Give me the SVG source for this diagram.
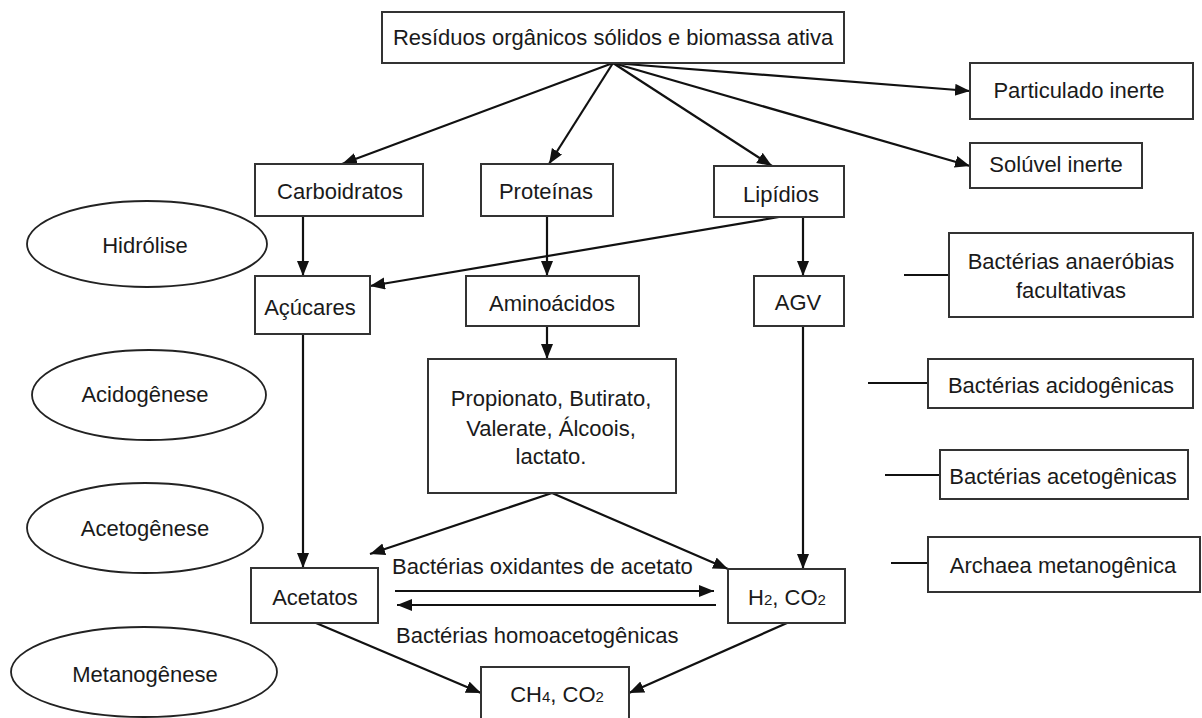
<svg xmlns="http://www.w3.org/2000/svg" width="1202" height="718" viewBox="0 0 1202 718">
<style>
  .box { fill: #ffffff; stroke: #333333; stroke-width: 2; }
  .ell { fill: #ffffff; stroke: #222222; stroke-width: 1.8; }
  .t { font-family: "Liberation Sans", Arial, sans-serif; font-size: 22px; fill: #1a1a1a; text-anchor: middle; }
  .ts { text-anchor: start; }
  .sub { font-size: 15px; }
  .c { stroke: #111111; stroke-width: 2.2; fill: none; }
  .a { marker-end: url(#ah); }
</style>
<defs>
  <marker id="ah" markerUnits="userSpaceOnUse" markerWidth="16" markerHeight="14" refX="15" refY="6" orient="auto">
    <path d="M0,0 L15,6 L0,12 z" fill="#111111"/>
  </marker>
</defs>
<rect x="0" y="0" width="1202" height="718" fill="#ffffff"/>

<g id="connectors">
  <line class="c a" x1="613" y1="63" x2="342" y2="164"/>
  <line class="c a" x1="613" y1="63" x2="549" y2="164"/>
  <line class="c a" x1="613" y1="63" x2="772" y2="166"/>
  <line class="c a" x1="613" y1="63" x2="970" y2="91"/>
  <line class="c a" x1="613" y1="63" x2="970" y2="166"/>
  <line class="c a" x1="303" y1="216" x2="303" y2="276"/>
  <line class="c a" x1="547" y1="216" x2="547" y2="276"/>
  <line class="c a" x1="803" y1="217" x2="803" y2="276"/>
  <line class="c a" x1="779" y1="217" x2="370" y2="286"/>
  <line class="c a" x1="547" y1="326" x2="547" y2="359"/>
  <line class="c a" x1="303" y1="334" x2="303" y2="568"/>
  <line class="c a" x1="803" y1="326" x2="803" y2="569"/>
  <line class="c a" x1="552" y1="493" x2="370" y2="554"/>
  <line class="c a" x1="552" y1="493" x2="728" y2="569"/>
  <line class="c a" x1="395" y1="591" x2="714" y2="591"/>
  <line class="c a" x1="716" y1="605" x2="397" y2="605"/>
  <line class="c a" x1="316" y1="623" x2="481" y2="693"/>
  <line class="c a" x1="787" y1="623" x2="629" y2="693"/>
  <line class="c" x1="904" y1="275" x2="949" y2="275"/>
  <line class="c" x1="868" y1="383" x2="928" y2="383"/>
  <line class="c" x1="885" y1="475" x2="940" y2="475"/>
  <line class="c" x1="891" y1="563" x2="928" y2="563"/>
</g>

<g id="residuos">
  <rect class="box" x="382" y="12" width="462" height="51"/>
  <text class="t" x="613" y="45">Resíduos orgânicos sólidos e biomassa ativa</text>
</g>
<g id="particulado">
  <rect class="box" x="970" y="63" width="223" height="56"/>
  <text class="t" x="1079" y="98">Particulado inerte</text>
</g>
<g id="soluvel">
  <rect class="box" x="970" y="143" width="172" height="45"/>
  <text class="t" x="1056" y="172">Solúvel inerte</text>
</g>
<g id="carboidratos">
  <rect class="box" x="255" y="164" width="168" height="52"/>
  <text class="t" x="340" y="199">Carboidratos</text>
</g>
<g id="proteinas">
  <rect class="box" x="481" y="164" width="132" height="52"/>
  <text class="t" x="546" y="199">Proteínas</text>
</g>
<g id="lipidios">
  <rect class="box" x="714" y="166" width="130" height="51"/>
  <text class="t" x="781" y="202">Lipídios</text>
</g>
<g id="hidrolise">
  <ellipse class="ell" cx="147" cy="244" rx="120" ry="43"/>
  <text class="t" x="145" y="253">Hidrólise</text>
</g>
<g id="acucares">
  <rect class="box" x="255" y="276" width="115" height="58"/>
  <text class="t" x="310" y="315">Açúcares</text>
</g>
<g id="aminoacidos">
  <rect class="box" x="466" y="276" width="173" height="50"/>
  <text class="t" x="552" y="311">Aminoácidos</text>
</g>
<g id="agv">
  <rect class="box" x="754" y="276" width="90" height="50"/>
  <text class="t" x="798" y="310">AGV</text>
</g>
<g id="anaerobias">
  <rect class="box" x="949" y="233" width="244" height="84"/>
  <text class="t" x="1071" y="269">Bactérias anaeróbias</text>
  <text class="t" x="1071" y="298">facultativas</text>
</g>
<g id="acidogenese">
  <ellipse class="ell" cx="149" cy="395" rx="117" ry="45"/>
  <text class="t" x="145" y="402">Acidogênese</text>
</g>
<g id="propionato">
  <rect class="box" x="428" y="359" width="248" height="134"/>
  <text class="t" x="551" y="406">Propionato, Butirato,</text>
  <text class="t" x="551" y="436">Valerate, Álcoois,</text>
  <text class="t" x="551" y="464">lactato.</text>
</g>
<g id="acidogenicas">
  <rect class="box" x="928" y="359" width="265" height="49"/>
  <text class="t" x="1061" y="393">Bactérias acidogênicas</text>
</g>
<g id="acetogenicas">
  <rect class="box" x="940" y="450" width="248" height="49"/>
  <text class="t" x="1063" y="484">Bactérias acetogênicas</text>
</g>
<g id="acetogenese">
  <ellipse class="ell" cx="145" cy="528" rx="118" ry="45"/>
  <text class="t" x="145" y="536">Acetogênese</text>
</g>
<g id="archaea">
  <rect class="box" x="928" y="537" width="272" height="55"/>
  <text class="t" x="1063" y="573">Archaea metanogênica</text>
</g>
<g id="acetatos">
  <rect class="box" x="251" y="568" width="127" height="55"/>
  <text class="t" x="315" y="605">Acetatos</text>
</g>
<g id="h2co2">
  <rect class="box" x="728" y="569" width="117" height="54"/>
  <text class="t" x="787" y="605">H<tspan class="sub">2</tspan>, CO<tspan class="sub">2</tspan></text>
</g>
<g id="label-oxidantes">
  <text class="t ts" x="392" y="574">Bactérias oxidantes de acetato</text>
</g>
<g id="label-homoacetogenicas">
  <text class="t ts" x="396" y="643">Bactérias homoacetogênicas</text>
</g>
<g id="metanogenese">
  <ellipse class="ell" cx="144" cy="672" rx="133" ry="45"/>
  <text class="t" x="145" y="682">Metanogênese</text>
</g>
<g id="ch4co2">
  <rect class="box" x="481" y="667" width="148" height="62"/>
  <text class="t" x="557" y="702">CH<tspan class="sub">4</tspan>, CO<tspan class="sub">2</tspan></text>
</g>
</svg>
